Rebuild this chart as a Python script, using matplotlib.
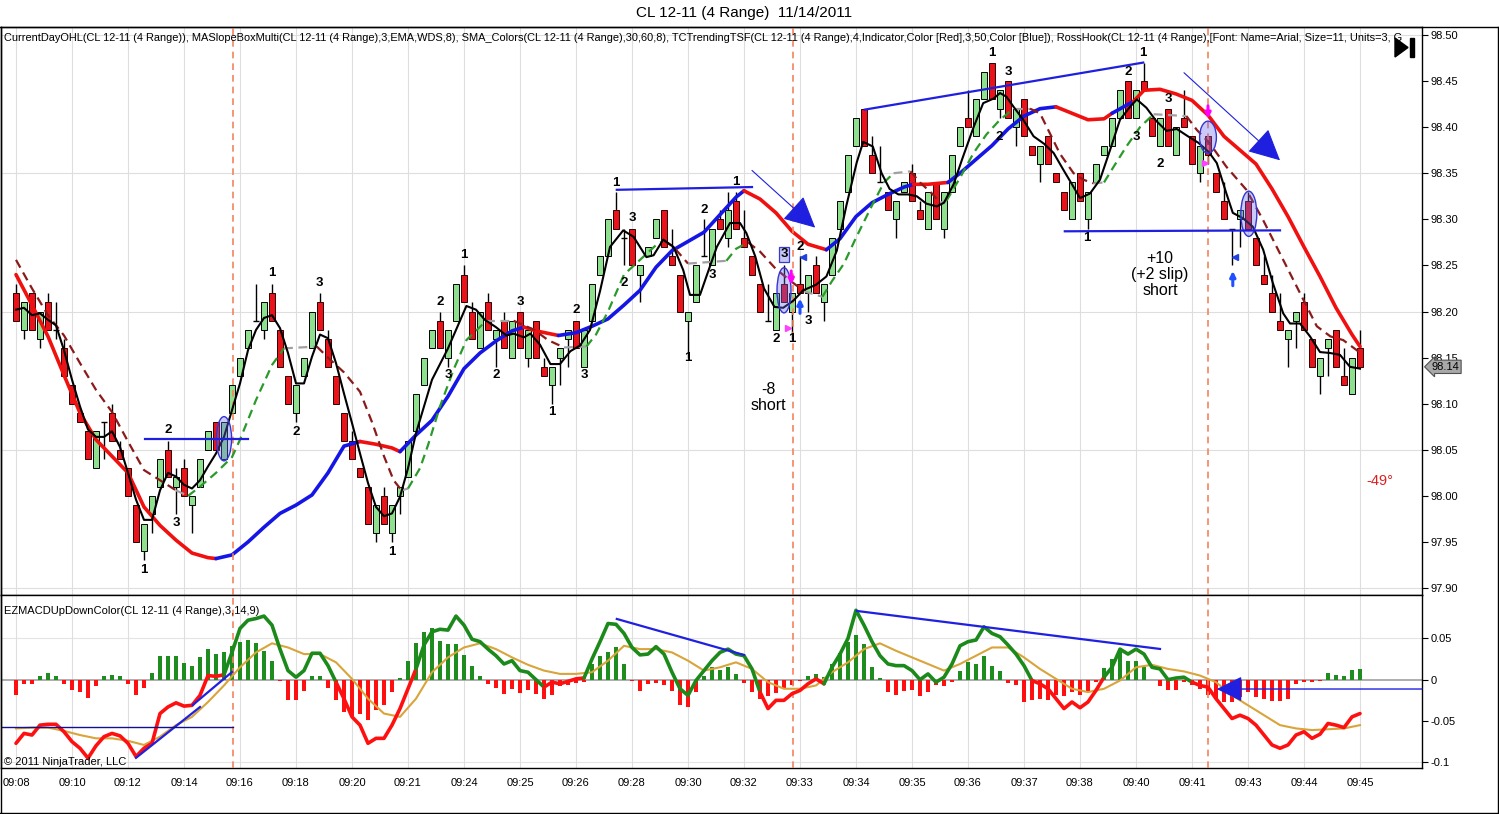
import matplotlib
matplotlib.use('Agg')
import matplotlib.pyplot as plt
from matplotlib.patches import Ellipse, Polygon, Rectangle
from matplotlib.lines import Line2D

plt.rcParams['font.family'] = ['Liberation Sans', 'DejaVu Sans']

# ---------------- data ----------------
time_labels = ['09:08', '09:10', '09:12', '09:14', '09:16', '09:18', '09:20', '09:21', '09:24',
               '09:25', '09:26', '09:28', '09:30', '09:32', '09:33', '09:34', '09:35', '09:36',
               '09:37', '09:38', '09:40', '09:41', '09:43', '09:44', '09:45']
label_bars = [0, 7, 14, 21, 28, 35, 42, 49, 56, 63, 70, 77, 84, 91, 98, 105, 112, 119, 126,
              133, 140, 147, 154, 161, 168]

opens = [98.22, 98.18, 98.22, 98.17, 98.21, 98.18, 98.16, 98.12, 98.09, 98.07,
         98.03, 98.08, 98.09, 98.05, 98.03, 97.99, 97.94, 97.98, 98.01, 98.05,
         98.01, 98.03, 97.99, 98.01, 98.05, 98.08, 98.04, 98.09, 98.13, 98.16,
         98.19, 98.18, 98.22, 98.18, 98.13, 98.09, 98.13, 98.16, 98.21, 98.17,
         98.13, 98.09, 98.06, 98.03, 98.01, 97.96, 98.00, 97.96, 98.00, 98.02,
         98.07, 98.12, 98.16, 98.19, 98.15, 98.19, 98.24, 98.20, 98.16, 98.21,
         98.17, 98.19, 98.15, 98.20, 98.15, 98.19, 98.14, 98.12, 98.15, 98.17,
         98.19, 98.14, 98.19, 98.24, 98.26, 98.31, 98.28, 98.29, 98.24, 98.26,
         98.28, 98.31, 98.26, 98.24, 98.19, 98.21, 98.26, 98.25, 98.30, 98.28,
         98.32, 98.28, 98.26, 98.23, 98.19, 98.18, 98.23, 98.20, 98.23, 98.22,
         98.25, 98.21, 98.24, 98.29, 98.33, 98.38, 98.42, 98.37, 98.34, 98.33,
         98.30, 98.33, 98.35, 98.31, 98.29, 98.34, 98.29, 98.33, 98.38, 98.41,
         98.39, 98.43, 98.47, 98.42, 98.45, 98.40, 98.43, 98.38, 98.36, 98.39,
         98.35, 98.33, 98.30, 98.35, 98.30, 98.34, 98.37, 98.38, 98.41, 98.45,
         98.41, 98.45, 98.41, 98.38, 98.42, 98.37, 98.41, 98.39, 98.35, 98.39,
         98.35, 98.32, 98.29, 98.30, 98.32, 98.28, 98.24, 98.22, 98.19, 98.17,
         98.19, 98.21, 98.17, 98.13, 98.16, 98.18, 98.13, 98.11, 98.16]
closes = [98.19, 98.21, 98.18, 98.20, 98.18, 98.18, 98.13, 98.10, 98.08, 98.04,
          98.07, 98.08, 98.06, 98.04, 98.00, 97.95, 97.97, 98.00, 98.04, 98.02,
          98.02, 98.00, 98.00, 98.04, 98.07, 98.05, 98.08, 98.12, 98.15, 98.18,
          98.19, 98.21, 98.19, 98.14, 98.10, 98.12, 98.15, 98.20, 98.18, 98.14,
          98.10, 98.06, 98.04, 98.02, 97.97, 97.99, 97.97, 97.99, 98.01, 98.06,
          98.11, 98.15, 98.18, 98.16, 98.18, 98.23, 98.21, 98.17, 98.20, 98.18,
          98.18, 98.16, 98.19, 98.16, 98.18, 98.15, 98.13, 98.14, 98.16, 98.18,
          98.16, 98.18, 98.23, 98.26, 98.30, 98.29, 98.28, 98.25, 98.25, 98.27,
          98.30, 98.27, 98.25, 98.20, 98.20, 98.25, 98.26, 98.29, 98.29, 98.31,
          98.29, 98.27, 98.24, 98.20, 98.19, 98.22, 98.21, 98.22, 98.22, 98.24,
          98.22, 98.23, 98.28, 98.32, 98.37, 98.41, 98.38, 98.35, 98.34, 98.31,
          98.32, 98.34, 98.32, 98.30, 98.33, 98.30, 98.33, 98.37, 98.40, 98.40,
          98.43, 98.46, 98.43, 98.44, 98.41, 98.42, 98.39, 98.37, 98.38, 98.36,
          98.34, 98.31, 98.34, 98.32, 98.33, 98.36, 98.38, 98.41, 98.44, 98.41,
          98.44, 98.44, 98.39, 98.41, 98.38, 98.40, 98.40, 98.36, 98.38, 98.37,
          98.33, 98.30, 98.29, 98.31, 98.29, 98.25, 98.23, 98.20, 98.18, 98.18,
          98.20, 98.18, 98.14, 98.15, 98.17, 98.14, 98.12, 98.15, 98.14]
highs = [98.23, 98.21, 98.22, 98.20, 98.22, 98.21, 98.17, 98.12, 98.09, 98.07,
         98.07, 98.08, 98.10, 98.06, 98.03, 97.99, 97.97, 98.00, 98.04, 98.06,
         98.03, 98.04, 98.00, 98.04, 98.07, 98.08, 98.08, 98.12, 98.15, 98.18,
         98.23, 98.21, 98.23, 98.18, 98.13, 98.12, 98.15, 98.20, 98.22, 98.18,
         98.13, 98.09, 98.07, 98.03, 98.01, 97.99, 98.01, 97.99, 98.01, 98.06,
         98.11, 98.15, 98.18, 98.20, 98.18, 98.23, 98.25, 98.21, 98.20, 98.22,
         98.18, 98.20, 98.19, 98.20, 98.18, 98.19, 98.15, 98.14, 98.16, 98.18,
         98.19, 98.18, 98.23, 98.26, 98.30, 98.33, 98.29, 98.29, 98.25, 98.27,
         98.30, 98.31, 98.29, 98.24, 98.20, 98.25, 98.30, 98.29, 98.31, 98.33,
         98.33, 98.31, 98.26, 98.23, 98.23, 98.22, 98.25, 98.22, 98.26, 98.24,
         98.26, 98.23, 98.28, 98.32, 98.37, 98.41, 98.42, 98.39, 98.38, 98.33,
         98.32, 98.34, 98.36, 98.32, 98.33, 98.34, 98.33, 98.37, 98.40, 98.44,
         98.43, 98.46, 98.47, 98.44, 98.45, 98.42, 98.43, 98.38, 98.38, 98.39,
         98.35, 98.33, 98.34, 98.35, 98.33, 98.36, 98.38, 98.41, 98.44, 98.45,
         98.44, 98.47, 98.41, 98.41, 98.42, 98.40, 98.44, 98.39, 98.38, 98.39,
         98.35, 98.34, 98.29, 98.31, 98.33, 98.28, 98.26, 98.24, 98.22, 98.18,
         98.20, 98.22, 98.17, 98.15, 98.17, 98.18, 98.16, 98.15, 98.18]
lows = [98.19, 98.17, 98.18, 98.16, 98.18, 98.17, 98.13, 98.10, 98.08, 98.04,
        98.03, 98.04, 98.06, 98.04, 98.00, 97.95, 97.93, 97.96, 98.01, 98.02,
        97.98, 98.00, 97.96, 98.01, 98.05, 98.05, 98.04, 98.09, 98.13, 98.16,
        98.19, 98.17, 98.19, 98.14, 98.10, 98.08, 98.13, 98.16, 98.18, 98.14,
        98.10, 98.06, 98.04, 98.02, 97.97, 97.95, 97.97, 97.95, 97.98, 98.02,
        98.07, 98.12, 98.16, 98.16, 98.14, 98.19, 98.21, 98.17, 98.16, 98.18,
        98.14, 98.16, 98.15, 98.16, 98.14, 98.15, 98.13, 98.10, 98.12, 98.14,
        98.16, 98.14, 98.19, 98.24, 98.26, 98.29, 98.25, 98.25, 98.21, 98.26,
        98.28, 98.27, 98.25, 98.20, 98.15, 98.21, 98.26, 98.25, 98.29, 98.27,
        98.29, 98.27, 98.24, 98.20, 98.19, 98.18, 98.21, 98.17, 98.22, 98.20,
        98.22, 98.19, 98.24, 98.29, 98.33, 98.38, 98.38, 98.35, 98.34, 98.31,
        98.28, 98.33, 98.32, 98.30, 98.29, 98.30, 98.28, 98.33, 98.38, 98.40,
        98.39, 98.43, 98.43, 98.41, 98.41, 98.38, 98.39, 98.37, 98.34, 98.36,
        98.34, 98.31, 98.30, 98.32, 98.29, 98.34, 98.37, 98.38, 98.41, 98.41,
        98.41, 98.44, 98.39, 98.38, 98.38, 98.37, 98.40, 98.36, 98.34, 98.36,
        98.33, 98.30, 98.25, 98.27, 98.29, 98.25, 98.23, 98.20, 98.18, 98.14,
        98.16, 98.18, 98.14, 98.11, 98.13, 98.14, 98.12, 98.11, 98.14]

# slow trend line (red falling / blue rising)
slow_x = [0, 2, 4, 6, 8, 10, 12, 14, 16, 18, 20, 22, 24, 25, 27, 29, 31, 33, 35, 37,
          39, 41, 43, 45, 47, 48, 50, 52, 54, 56, 58, 60, 62, 63.5, 65, 67.8, 70, 72, 74, 76,
          78, 80, 82, 84, 86, 88, 90, 91, 93, 95, 97, 99, 101.3, 103, 105, 107, 109, 111, 112.2, 114,
          116.5, 118, 120, 122, 124, 126, 128, 130, 132, 134, 136, 137, 139.7, 141, 143, 145, 147, 149, 151, 153,
          155, 157, 159, 161, 163, 165, 167, 168]
slow_y = [98.240, 98.207, 98.173, 98.131, 98.090, 98.061, 98.043, 98.025, 97.988, 97.968,
          97.952, 97.938, 97.933, 97.932, 97.936, 97.950, 97.966, 97.981, 97.990, 98.001,
          98.025, 98.054, 98.059, 98.056, 98.052, 98.048, 98.066, 98.082, 98.108, 98.138,
          98.155, 98.168, 98.179, 98.183, 98.179, 98.174, 98.177, 98.184, 98.192, 98.207,
          98.223, 98.248, 98.266, 98.276, 98.286, 98.305, 98.324, 98.331, 98.322, 98.307,
          98.287, 98.273, 98.267, 98.279, 98.303, 98.318, 98.327, 98.335, 98.338, 98.338,
          98.340, 98.350, 98.365, 98.380, 98.398, 98.412, 98.420, 98.422, 98.415, 98.408,
          98.409, 98.415, 98.428, 98.440, 98.441, 98.436, 98.429, 98.413, 98.390, 98.375,
          98.360, 98.333, 98.303, 98.270, 98.238, 98.204, 98.175, 98.162]
slow_c = ('rrrrrrrrrrrrr' 'bbbbbbbbb' 'rrr' 'bbbbbbbb' 'rr' 'bbbbbbbbbbbb' 'rrrrr'
          'bbbbbb' 'rr' 'bbbbbbb' 'rrrr' 'b' 'rrrrrrrrrrrrrrrr')

# medium dashed line (dark red falling / green rising / gray flat)
mid_x = [0, 2, 4, 6, 8, 10, 12, 14, 16, 18, 20, 21.5, 23, 25, 27, 28, 30, 32, 33.5, 37.6,
         39, 41, 43, 44.5, 46, 47.2, 48.2, 49, 50.5, 51.5, 53, 54.7, 56.3, 57.6, 58.8, 62.2, 64.8, 66.5, 68.5, 71.3,
         72.5, 74, 76, 78, 80, 81, 82.2, 84, 88.8, 90, 91.5, 93, 95, 97, 98.5, 100.8, 102, 103.5, 105, 107,
         108.5, 109.7, 111.8, 113, 114.5, 115.5, 116.3, 118, 119.7, 121.3, 123, 124.7, 126.75, 128, 129.25,
         130.5, 132.2, 133.4, 134.7, 136, 137.2, 138.8, 140.5, 142.2, 146.3, 147.6, 149.25, 151.3, 153.8,
         155.9, 158.4, 160.5, 162.6, 164.3, 165.9, 167.6, 168]
mid_y = [98.256, 98.225, 98.196, 98.174, 98.144, 98.115, 98.091, 98.059, 98.028, 98.017,
         98.006, 98.000, 98.010, 98.025, 98.042, 98.061, 98.104, 98.142, 98.160, 98.162,
         98.150, 98.134, 98.113, 98.080, 98.043, 98.017, 98.006, 98.008, 98.030, 98.055,
         98.097, 98.137, 98.169, 98.180, 98.190, 98.190, 98.180, 98.169, 98.161, 98.162,
         98.175, 98.200, 98.240, 98.256, 98.272, 98.277, 98.270, 98.252, 98.255, 98.268,
         98.275, 98.265, 98.246, 98.232, 98.222, 98.216, 98.233, 98.252, 98.280, 98.315,
         98.340, 98.350, 98.352, 98.340, 98.328, 98.318, 98.320, 98.345, 98.372, 98.392,
         98.408, 98.420, 98.420, 98.415, 98.393, 98.371, 98.350, 98.343, 98.339, 98.340,
         98.357, 98.379, 98.400, 98.414, 98.412, 98.397, 98.382, 98.357, 98.332, 98.299,
         98.256, 98.220, 98.184, 98.173, 98.169, 98.158, 98.155]
mid_c = ('dddddddddd' 'y' 'ggggggg' 'y' 'ddddddd' 'y' 'ggggggg' 'y' 'ddd' 'y' 'gggggg' 'dd'
         'y' 'gg' 'dddd' 'y' 'gggggg' 'y' 'ddd' 'y' 'ggggg' 'y' 'dddddd' 'y' 'gggg' 'y'
         'ddddddddddddd')

# fast black line
fast_x = [0, 1, 2, 3, 4, 5, 6, 7, 8, 9, 10, 11, 12, 13, 14, 15, 16, 17, 18, 19,
          20, 21, 22, 23, 24, 25, 26, 27, 28, 29, 30, 31, 32, 33, 34, 35, 36, 37, 38, 39,
          40, 41, 42, 43, 44, 45, 46, 47, 48, 49, 50,
          52, 54, 55.5, 56.3, 57.5, 58.6, 60, 61.3, 62.2, 63.5, 64.3, 65.5, 66.8, 68, 69.3, 70.5,
          71.75, 73, 74.25, 75.9, 77.2, 78.8, 79.7, 80.9, 82.2, 83.4, 84.25, 85.5, 86.3, 87.6,
          89.25, 90.5, 91.3, 92.4, 93.5, 94.8, 95.9, 97.2, 98.4, 100, 101.3, 102.6, 103.8, 105.1,
          105.9, 107.1, 108.2, 109.2, 110.3, 111.5, 112.6, 113.8, 115.1, 116, 117.2, 118.3, 119.7,
          120.9, 122.2, 123, 123.8, 124.7, 125.9, 127.2, 128.5, 129.7, 130.9, 132.2, 133, 134.25,
          135.5, 136.75, 138, 139.25, 140.1, 141.3, 142.5, 143.8, 145.1, 146.5, 147.8, 149.1, 150.1,
          151.3, 152.1, 153.4, 154.6, 155.9, 157.1, 158.4, 159.25, 160.5, 161.75, 163, 164.25,
          165.5, 166.75, 168]
fast_y = [98.202, 98.204, 98.196, 98.198, 98.191, 98.185, 98.158, 98.126, 98.097, 98.072,
          98.064, 98.064, 98.070, 98.053, 98.025, 97.996, 97.974, 97.974, 98.006, 98.025,
          98.021, 98.012, 98.008, 98.017, 98.032, 98.046, 98.064, 98.093, 98.122, 98.158,
          98.180, 98.193, 98.196, 98.182, 98.155, 98.122, 98.122, 98.151, 98.175, 98.171,
          98.144, 98.111, 98.079, 98.046, 98.014, 97.988, 97.978, 97.981, 97.999, 98.030, 98.068,
          98.126, 98.160, 98.190, 98.206, 98.202, 98.191, 98.183, 98.174, 98.176, 98.172,
          98.176, 98.164, 98.143, 98.143, 98.157, 98.163, 98.180, 98.222, 98.270, 98.288,
          98.281, 98.259, 98.261, 98.278, 98.270, 98.245, 98.218, 98.218, 98.238, 98.270,
          98.296, 98.296, 98.285, 98.260, 98.225, 98.205, 98.204, 98.212, 98.223, 98.229,
          98.238, 98.266, 98.315, 98.362, 98.384, 98.379, 98.350, 98.333, 98.327, 98.327,
          98.325, 98.317, 98.314, 98.318, 98.338, 98.366, 98.400, 98.426, 98.431, 98.437,
          98.433, 98.422, 98.408, 98.390, 98.382, 98.372, 98.354, 98.335, 98.323, 98.328,
          98.343, 98.375, 98.408, 98.422, 98.430, 98.421, 98.407, 98.396, 98.398, 98.390,
          98.383, 98.373, 98.361, 98.328, 98.307, 98.301, 98.292, 98.267, 98.231, 98.198,
          98.187, 98.187, 98.173, 98.156, 98.155, 98.153, 98.140, 98.138]

# MACD panel
macd_hist = [-0.018, -0.005, -0.005, 0.004, 0.008, 0.004, -0.005, -0.012, -0.015, -0.022,
             -0.008, 0.004, 0.006, 0.004, -0.005, -0.018, -0.010, 0.008, 0.029, 0.029,
             0.029, 0.020, 0.017, 0.027, 0.037, 0.031, 0.033, 0.041, 0.046, 0.048,
             0.044, 0.035, 0.023, -0.002, -0.025, -0.024, -0.014, 0.005, 0.004, -0.010,
             -0.025, -0.039, -0.044, -0.042, -0.049, -0.037, -0.031, -0.015, 0.002, 0.023,
             0.045, 0.058, 0.062, 0.047, 0.043, 0.043, 0.030, 0.017, 0.005, -0.005,
             -0.010, -0.017, -0.011, -0.016, -0.012, -0.017, -0.023, -0.019, -0.008, -0.006,
             -0.004, -0.003, 0.019, 0.029, 0.033, 0.039, 0.019, -0.001, -0.014, -0.005,
             -0.004, -0.006, -0.014, -0.031, -0.033, -0.015, 0.005, 0.015, 0.012, 0.015,
             0.007, -0.004, -0.015, -0.023, -0.020, -0.016, -0.011, -0.007, -0.002, 0.005,
             0.007, 0.003, 0.019, 0.032, 0.046, 0.054, 0.043, 0.015, 0.002, -0.015,
             -0.018, -0.014, -0.013, -0.020, -0.015, -0.007, -0.008, -0.003, 0.011, 0.021,
             0.019, 0.029, 0.017, 0.010, -0.004, -0.007, -0.027, -0.025, -0.023, -0.025,
             -0.019, -0.020, -0.015, -0.019, -0.015, -0.003, 0.014, 0.025, 0.033, 0.023,
             0.023, 0.015, 0.000, -0.008, -0.012, -0.013, -0.003, -0.006, -0.011, -0.019,
             -0.023, -0.027, -0.027, -0.021, -0.015, -0.021, -0.023, -0.026, -0.026, -0.023,
             -0.005, -0.003, -0.003, -0.002, 0.008, 0.006, 0.005, 0.012, 0.013]
macd_line = [-0.077, -0.065, -0.067, -0.055, -0.054, -0.054, -0.063, -0.075, -0.083, -0.095,
             -0.080, -0.069, -0.065, -0.068, -0.077, -0.093, -0.083, -0.077, -0.041, -0.033,
             -0.028, -0.032, -0.031, -0.019, 0.005, 0.004, 0.006, 0.033, 0.062, 0.072,
             0.074, 0.077, 0.066, 0.037, 0.011, 0.003, 0.011, 0.032, 0.032, 0.017,
             -0.003, -0.023, -0.045, -0.055, -0.077, -0.071, -0.071, -0.055, -0.035, -0.011,
             0.013, 0.042, 0.058, 0.061, 0.060, 0.077, 0.066, 0.049, 0.046, 0.037,
             0.029, 0.019, 0.023, 0.011, 0.009, 0.000, -0.009, -0.003, -0.005, -0.002,
             0.001, 0.002, 0.025, 0.046, 0.068, 0.067, 0.056, 0.039, 0.030, 0.031,
             0.040, 0.031, 0.009, -0.011, -0.019, -0.001, 0.011, 0.023, 0.033, 0.037,
             0.031, 0.029, 0.013, -0.015, -0.035, -0.025, -0.025, -0.017, -0.013, -0.005,
             0.001, -0.005, 0.015, 0.031, 0.050, 0.084, 0.066, 0.046, 0.029, 0.019,
             0.017, 0.017, 0.011, 0.000, 0.007, -0.003, 0.003, 0.019, 0.041, 0.046,
             0.048, 0.064, 0.056, 0.052, 0.042, 0.031, 0.017, -0.001, -0.005, -0.011,
             -0.023, -0.035, -0.027, -0.034, -0.027, -0.013, 0.003, 0.015, 0.037, 0.031,
             0.037, 0.031, 0.015, 0.013, 0.000, 0.002, 0.003, -0.003, -0.007, -0.009,
             -0.023, -0.035, -0.047, -0.043, -0.047, -0.055, -0.067, -0.079, -0.083, -0.079,
             -0.067, -0.063, -0.071, -0.066, -0.053, -0.055, -0.058, -0.045, -0.041]
macd_runs = [(0, 'r'), (26, 'g'), (40, 'r'), (50, 'g'), (66, 'r'), (71, 'g'), (93, 'r'),
             (101, 'g'), (127, 'r'), (136, 'g'), (147, 'r')]
signal_x = list(range(0, 169, 2))
signal_y = [-0.059, -0.058, -0.058, -0.062, -0.067, -0.071, -0.071, -0.074, -0.079, -0.069,
            -0.055, -0.045, -0.027, -0.007, 0.015, 0.033, 0.044, 0.039, 0.031, 0.031,
            0.021, 0.001, -0.023, -0.041, -0.045, -0.023, 0.009, 0.027, 0.039, 0.044,
            0.037, 0.027, 0.018, 0.011, 0.007, 0.007, 0.009, 0.023, 0.041, 0.037,
            0.037, 0.033, 0.023, 0.011, 0.015, 0.021, 0.013, -0.003, -0.011, -0.011,
            -0.007, 0.009, 0.021, 0.037, 0.044, 0.035, 0.027, 0.019, 0.011, 0.019,
            0.029, 0.039, 0.039, 0.027, 0.013, 0.001, -0.011, -0.015, -0.011, -0.001,
            0.015, 0.018, 0.013, 0.010, 0.005, -0.003, -0.019, -0.031, -0.043, -0.055,
            -0.059, -0.061, -0.060, -0.059, -0.055]

price_ticks = [97.90, 97.95, 98.00, 98.05, 98.10, 98.15, 98.20, 98.25, 98.30, 98.35, 98.40, 98.45, 98.50]
price_grid = [97.90, 98.05, 98.20, 98.35, 98.50]
macd_ticks = [0.05, 0.0, -0.05, -0.1]
macd_tick_labels = ['0.05', '0', '-0.05', '-0.1']
macd_grid = [0.05, -0.1]
last_price = 98.14

session_bars = [27.1, 97.1, 149.0]

swing_labels = [('1', 16.0, 97.920), ('3', 20.0, 97.971), ('2', 19.0, 98.071), ('1', 32.0, 98.242),
                ('3', 37.9, 98.231), ('2', 35.0, 98.069), ('1', 47.0, 97.939), ('2', 53.0, 98.210),
                ('1', 56.0, 98.261), ('3', 54.0, 98.131), ('2', 60.0, 98.131), ('3', 63.0, 98.210),
                ('1', 67.0, 98.091), ('2', 70.0, 98.202), ('3', 71.0, 98.131), ('1', 75.0, 98.339),
                ('3', 77.0, 98.301), ('2', 76.0, 98.231), ('2', 86.0, 98.310), ('3', 87.0, 98.240),
                ('1', 84.0, 98.150), ('1', 90.0, 98.340), ('2', 95.0, 98.170), ('1', 97.0, 98.170),
                ('3', 99.0, 98.190), ('2', 98.0, 98.270), ('1', 122.0, 98.480), ('3', 124.0, 98.460),
                ('2', 122.9, 98.389), ('1', 140.9, 98.480), ('2', 139.0, 98.460), ('3', 144.0, 98.430),
                ('2', 143.0, 98.360), ('3', 140.0, 98.389), ('1', 133.9, 98.280)]
boxed_label = ('3', 96.0, 98.262)

trend_lines = [((16.1, 98.062), (29.0, 98.062)), ((75.1, 98.332), (92.0, 98.335)),
               ((106.1, 98.419), (140.9, 98.470)), ((131.1, 98.287), (158.0, 98.288))]
trend_arrows = [((92.0, 98.353), (99.9, 98.291)), ((146.0, 98.459), (158.0, 98.364))]
ellipses = [(26.0, 98.062, 1.9, 0.048), (96.0, 98.223, 1.75, 0.049),
            (149.0, 98.389, 2.1, 0.035), (154.1, 98.306, 2.0, 0.049)]
macd_lines = [((15.0, -0.0946), (23.0, -0.0331)), ((22.1, -0.0306), (27.0, 0.0093)),
              ((75.1, 0.0735), (91.0, 0.0299)), ((105.1, 0.0832), (143.0, 0.0372))]
macd_level = ((-1.875, -0.0573), (27.1, -0.0573))
macd_arrow = ((175.75, -0.0113), (150.1, -0.0113))

# ---------------- figure ----------------
W, H = 1499, 814
fig = plt.figure(figsize=(W / 100, H / 100), dpi=100)
fig.patch.set_facecolor('white')


def frac(x0, y0, x1, y1):
    return [x0 / W, 1 - y1 / H, (x1 - x0) / W, (y1 - y0) / H]


ax = fig.add_axes(frac(1, 27, 1422, 595))
ax2 = fig.add_axes(frac(1, 595, 1422, 768))
XLIM = (-1.875, 175.75)
for a in (ax, ax2):
    a.set_xlim(*XLIM)
    for s in a.spines.values():
        s.set_color('black')
        s.set_linewidth(1.0)
    a.set_xticks(label_bars)
    a.grid(axis='x', color='#DEDEDE', lw=0.8)
    a.set_axisbelow(True)
    a.yaxis.tick_right()
    a.tick_params(axis='y', direction='out', length=4, width=0.8, labelsize=8, pad=2)
ax.set_ylim(97.8925, 98.5086)
ax2.set_ylim(-0.1069, 0.1025)
ax.tick_params(axis='x', length=0, labelbottom=False)
ax2.tick_params(axis='x', length=0, labelsize=8, pad=7)
ax2.set_xticklabels(time_labels)
ax.set_yticks(price_ticks)
ax.set_yticklabels([f'{v:.2f}' for v in price_ticks])
ax2.set_yticks(macd_ticks)
ax2.set_yticklabels(macd_tick_labels)
for g in price_grid:
    ax.axhline(g, color='#DEDEDE', lw=0.8, zorder=0)
for g in macd_grid:
    ax2.axhline(g, color='#E4E4E4', lw=0.8, zorder=0)

# candles
idx = list(range(len(opens)))
up = [i for i in idx if closes[i] > opens[i]]
dn = [i for i in idx if closes[i] < opens[i]]
dj = [i for i in idx if closes[i] == opens[i]]
ax.vlines(idx, lows, highs, color='black', lw=1.0, zorder=2)
ax.bar(up, [closes[i] - opens[i] for i in up], bottom=[opens[i] for i in up], width=0.8,
       color='#8EE08E', edgecolor='black', linewidth=0.7, zorder=3)
ax.bar(dn, [opens[i] - closes[i] for i in dn], bottom=[closes[i] for i in dn], width=0.8,
       color='#E8141B', edgecolor='#300000', linewidth=0.7, zorder=3)
ax.hlines([opens[i] for i in dj], [i - 0.4 for i in dj], [i + 0.4 for i in dj],
          color='black', lw=1.0, zorder=3)


def plot_runs(a, xs, ys, cols, cmap, **kw):
    s = 0
    n = len(xs)
    for k in range(1, n):
        if cols[k] != cols[s] or k == n - 1:
            a.plot(xs[s:k + 1], ys[s:k + 1], color=cmap[cols[s]], **kw)
            s = k


plot_runs(ax, slow_x, slow_y, slow_c, {'r': '#F01010', 'b': '#1515E6'},
          lw=2.6, solid_capstyle='round', zorder=4)
plot_runs(ax, mid_x, mid_y, mid_c, {'d': '#8B1A1A', 'g': '#2A9A2A', 'y': '#A0A0A0'},
          lw=1.6, ls=(0, (4, 2.5)), zorder=4.5)
ax.plot(fast_x, fast_y, color='black', lw=1.5, zorder=5)

# session lines
for b in session_bars:
    for a in (ax, ax2):
        a.axvline(b, color='#F4845F', lw=1.2, ls=(0, (4, 3)), zorder=4)

# ellipses
for (cx, cy, w, h) in ellipses:
    ax.add_patch(Ellipse((cx, cy), w, h, facecolor=(0.40, 0.40, 0.95, 0.35),
                         edgecolor='#3535D5', lw=1.0, zorder=6))

# trend lines & arrows
for (p0, p1) in trend_lines:
    ax.plot([p0[0], p1[0]], [p0[1], p1[1]], color='#1F1FE0', lw=1.6, zorder=6)
for (p0, p1) in trend_arrows:
    ax.annotate('', xy=p1, xytext=p0,
                arrowprops=dict(arrowstyle='-|>,head_length=0.9,head_width=0.45', color='#1F1FE0',
                                lw=0.8, mutation_scale=22, shrinkA=0, shrinkB=0), zorder=6)

# swing labels
for (t, x, y) in swing_labels:
    ax.text(x, y, t, ha='center', va='center', fontsize=9.5, fontweight='bold', color='black', zorder=7)
ax.text(boxed_label[1], boxed_label[2], boxed_label[0], ha='center', va='center', fontsize=9.5,
        fontweight='bold', zorder=7,
        bbox=dict(boxstyle='square,pad=0.12', fc='#C8C8F4', ec='#3A3AD0', lw=0.9))

# small signal markers
for (x, y0, y1) in [(96.9, 98.244, 98.229), (149.0, 98.423, 98.409)]:
    ax.annotate('', xy=(x, y1), xytext=(x, y0),
                arrowprops=dict(arrowstyle='-|>', color='#FF00FF', lw=2.2, mutation_scale=8,
                                shrinkA=0, shrinkB=0), zorder=7)
for (x, y0, y1) in [(98.0, 98.198, 98.214), (152.1, 98.228, 98.244)]:
    ax.annotate('', xy=(x, y1), xytext=(x, y0),
                arrowprops=dict(arrowstyle='-|>', color='#1E50FF', lw=2.2, mutation_scale=8,
                                shrinkA=0, shrinkB=0), zorder=7)
ax.plot([96.5, 148.6], [98.182, 98.361], ls='none', marker='>', color='#FF40FF', ms=5, zorder=7)
ax.plot([98.4, 152.4], [98.259, 98.259], ls='none', marker='<', color='#2040E0', ms=5, zorder=7)

# notes
ax.text(94.0, 98.107, '-8\nshort', ha='center', va='center', fontsize=11.5, linespacing=1.1, zorder=7)
ax.text(143.0, 98.240, '+10\n(+2 slip)\nshort', ha='center', va='center', fontsize=11.5,
        linespacing=1.1, zorder=7)
ax.text(170.5, 98.016, '-49°', ha='center', va='center', fontsize=10.5, color='#E02020', zorder=7)

ax.text(0.002, 0.981,
        'CurrentDayOHL(CL 12-11 (4 Range)), MASlopeBoxMulti(CL 12-11 (4 Range),3,EMA,WDS,8), '
        'SMA_Colors(CL 12-11 (4 Range),30,60,8), TCTrendingTSF(CL 12-11 (4 Range),4,Indicator,'
        'Color [Red],3,50,Color [Blue]), RossHook(CL 12-11 (4 Range),[Font: Name=Arial, Size=11, '
        'Units=3, G',
        transform=ax.transAxes, ha='left', va='center', fontsize=7.9, clip_on=True, zorder=8)

ax.annotate(f'{last_price:.2f}', xy=(1.0, last_price), xycoords=('axes fraction', 'data'),
            xytext=(7, 0), textcoords='offset points', ha='left', va='center', fontsize=8,
            annotation_clip=False,
            bbox=dict(boxstyle='larrow,pad=0.15', fc='#A8A8A8', ec='#505050', lw=0.8))

# MACD panel
ax2.axhline(0, color='#A0A0A0', lw=1.2, zorder=1)
hcol = ['#1E8C1E' if v >= 0 else '#FF1010' for v in macd_hist]
ax2.bar(idx, macd_hist, width=0.42, color=hcol, zorder=2)
ax2.plot(signal_x, signal_y, color='#D9A43A', lw=1.5, zorder=3)
mcols = []
for i in idx:
    c = 'r'
    for (st, cc) in macd_runs:
        if i >= st:
            c = cc
    mcols.append(c)
plot_runs(ax2, idx, macd_line, mcols, {'r': '#FF1010', 'g': '#1B8A1B'}, lw=2.6,
          solid_capstyle='round', zorder=4)
for (p0, p1) in macd_lines:
    ax2.plot([p0[0], p1[0]], [p0[1], p1[1]], color='#2020E0', lw=1.6, zorder=5)
ax2.plot([macd_level[0][0], macd_level[1][0]], [macd_level[0][1], macd_level[1][1]],
         color='#101090', lw=1.0, zorder=5)
ax2.annotate('', xy=macd_arrow[1], xytext=macd_arrow[0],
             arrowprops=dict(arrowstyle='-|>,head_length=0.8,head_width=0.4', color='#2020E0', lw=1.0,
                             mutation_scale=20, shrinkA=0, shrinkB=0), zorder=6)
ax2.text(0.002, 0.9075, 'EZMACDUpDownColor(CL 12-11 (4 Range),3,14,9)', transform=ax2.transAxes,
         ha='left', va='center', fontsize=8.0, zorder=8)
ax2.text(0.002, 0.035, '© 2011 NinjaTrader, LLC', transform=ax2.transAxes, ha='left', va='center',
         fontsize=8.0, zorder=8)

# title and frame
fig.text(744 / W, 1 - 13 / H, 'CL 12-11 (4 Range)  11/14/2011', ha='center', va='center', fontsize=11)
fig.add_artist(Line2D([0, 1], [1 - 27 / H] * 2, transform=fig.transFigure, color='black', lw=1.0))
fig.add_artist(Line2D([0, 1], [1 - 812.5 / H] * 2, transform=fig.transFigure, color='black', lw=1.0))
fig.add_artist(Line2D([1497.5 / W] * 2, [1 - 27 / H, 1 - 812.5 / H], transform=fig.transFigure,
                      color='black', lw=1.0))
fig.add_artist(Line2D([0.5 / W] * 2, [1 - 27 / H, 1 - 812.5 / H], transform=fig.transFigure,
                      color='black', lw=1.0))
tri = Polygon([(1395 / W, 1 - 38 / H), (1395 / W, 1 - 57 / H), (1408 / W, 1 - 47.5 / H)],
              closed=True, transform=fig.transFigure, color='black', zorder=10)
fig.add_artist(tri)
fig.add_artist(Rectangle((1410 / W, 1 - 57 / H), 4 / W, 19 / H, transform=fig.transFigure,
                         color='black', zorder=10))

fig.savefig('out.png', dpi=100, facecolor='white')
